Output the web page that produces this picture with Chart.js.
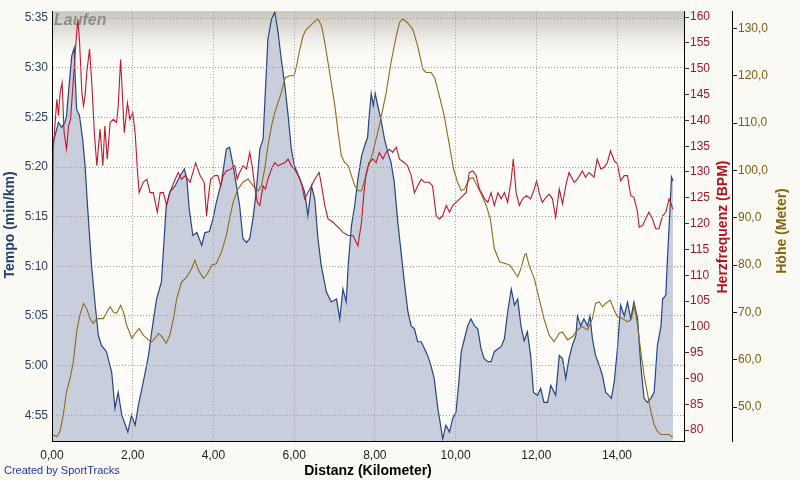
<!DOCTYPE html>
<html>
<head>
<meta charset="utf-8">
<script src="https://cdn.jsdelivr.net/npm/chart.js@4.4.1/dist/chart.umd.min.js"></script>
<style>
  html, body { margin: 0; padding: 0; background: #FBF9F4; }
  canvas { display: block; }
</style>
</head>
<body>
<canvas id="runChart" width="800" height="480"></canvas>
<script>
// Tempo in seconds per km
const tempoKm = [0.00,0.16,0.24,0.32,0.36,0.43,0.49,0.55,0.57,0.61,0.68,0.76,0.82,0.88,0.98,1.07,1.15,1.23,1.35,1.48,1.56,1.64,1.73,1.88,1.97,2.06,2.14,2.26,2.39,2.47,2.59,2.71,2.78,2.83,2.92,3.05,3.17,3.28,3.34,3.40,3.49,3.59,3.71,3.79,3.90,3.99,4.07,4.20,4.32,4.40,4.49,4.57,4.65,4.73,4.82,4.90,4.98,5.06,5.15,5.23,5.29,5.35,5.44,5.52,5.60,5.68,5.77,5.85,5.93,6.01,6.14,6.26,6.34,6.43,6.51,6.59,6.67,6.80,6.92,7.05,7.13,7.21,7.29,7.34,7.42,7.50,7.58,7.67,7.75,7.82,7.86,7.91,7.96,8.01,8.07,8.15,8.24,8.32,8.40,8.48,8.57,8.65,8.73,8.82,8.90,8.98,9.06,9.15,9.23,9.31,9.39,9.47,9.56,9.64,9.68,9.76,9.85,9.93,10.01,10.08,10.14,10.22,10.30,10.38,10.47,10.55,10.63,10.71,10.80,10.88,10.96,11.05,11.13,11.21,11.29,11.38,11.46,11.54,11.62,11.70,11.78,11.86,11.93,12.03,12.11,12.19,12.28,12.36,12.48,12.57,12.65,12.73,12.81,12.89,12.98,13.02,13.10,13.18,13.27,13.33,13.39,13.47,13.56,13.64,13.72,13.80,13.86,13.93,14.01,14.09,14.18,14.26,14.34,14.42,14.51,14.59,14.67,14.75,14.84,14.92,15.00,15.09,15.13,15.21,15.25,15.31,15.35,15.39];
const tempoSec = [322.0,324.5,324.0,324.5,325.2,328.5,331.2,332.0,329.5,325.8,325.2,322.8,320.1,316.1,310.1,306.1,303.0,302.0,301.4,299.3,295.7,297.3,295.0,293.3,295.0,294.0,296.0,298.3,301.0,303.4,306.7,308.4,312.8,316.1,317.5,318.1,319.1,319.8,318.8,315.8,313.1,313.4,312.1,313.4,313.5,314.8,316.4,318.5,321.8,322.0,320.1,318.1,316.1,312.8,312.4,312.8,314.8,317.5,321.8,322.8,327.9,332.9,334.9,335.6,333.6,330.9,328.2,325.2,321.8,320.1,318.8,317.5,315.1,318.1,316.8,312.8,310.1,307.4,306.4,306.7,304.7,307.7,306.4,310.1,314.1,316.1,318.8,321.1,322.2,323.0,325.2,327.4,326.2,327.4,326.2,324.8,322.8,321.5,320.5,318.5,314.4,311.4,308.4,305.4,304.0,303.7,302.4,302.4,301.7,301.0,300.0,298.7,295.7,293.7,292.6,294.0,293.3,294.7,295.3,298.3,301.4,302.7,304.0,304.7,304.0,303.7,301.7,300.7,300.4,300.4,301.4,301.7,301.9,302.7,305.4,307.7,306.1,306.7,304.0,302.5,303.4,301.0,297.3,297.0,297.7,296.3,296.3,298.0,297.0,301.0,300.7,298.7,300.7,302.0,303.0,305.0,304.0,304.7,304.0,305.0,302.7,301.0,300.0,299.0,297.3,297.0,296.7,298.3,301.7,306.1,305.0,306.4,304.7,306.4,304.7,300.0,296.7,296.3,296.7,297.3,302.0,304.0,306.7,307.1,310.8,315.5,319.0,318.6];

// Herzfrequenz (BPM)
const hrKm = [0.00,0.03,0.12,0.16,0.20,0.25,0.30,0.36,0.41,0.46,0.53,0.60,0.64,0.68,0.74,0.78,0.82,0.86,0.93,0.98,1.05,1.11,1.19,1.26,1.31,1.37,1.44,1.52,1.60,1.64,1.70,1.75,1.79,1.87,1.93,2.00,2.06,2.12,2.16,2.26,2.35,2.43,2.51,2.61,2.68,2.76,2.84,2.92,3.05,3.13,3.21,3.30,3.42,3.56,3.67,3.77,3.83,3.87,3.93,4.03,4.11,4.18,4.24,4.32,4.44,4.53,4.59,4.65,4.73,4.82,4.90,4.96,5.02,5.09,5.15,5.23,5.29,5.35,5.44,5.52,5.60,5.68,5.77,5.85,5.93,6.01,6.10,6.18,6.26,6.34,6.43,6.51,6.62,6.68,6.76,6.84,6.96,7.05,7.13,7.21,7.34,7.46,7.58,7.67,7.73,7.78,7.85,7.95,8.03,8.11,8.20,8.28,8.36,8.44,8.53,8.61,8.73,8.81,8.90,8.98,9.06,9.15,9.23,9.35,9.43,9.52,9.60,9.68,9.77,9.85,9.93,10.01,10.14,10.26,10.34,10.43,10.51,10.59,10.72,10.80,10.88,10.96,11.05,11.13,11.21,11.29,11.38,11.43,11.50,11.58,11.66,11.76,11.86,11.95,12.01,12.07,12.15,12.24,12.32,12.40,12.48,12.57,12.65,12.73,12.81,12.94,13.02,13.14,13.22,13.31,13.43,13.51,13.60,13.68,13.76,13.84,13.93,14.01,14.09,14.18,14.26,14.34,14.42,14.51,14.55,14.63,14.71,14.79,14.88,14.96,15.04,15.13,15.21,15.29,15.33,15.38];
const hrBpm = [103.0,134.4,144.1,140.9,145.4,147.3,137.6,134.4,138.9,140.2,148.0,155.7,159.6,155.7,145.4,142.8,144.7,149.2,153.8,148.0,137.6,131.2,138.3,131.2,138.9,132.5,139.6,140.2,139.6,142.8,151.8,144.1,137.6,143.4,140.2,141.5,137.6,129.9,126.0,128.0,128.6,126.0,126.0,122.2,126.0,126.0,123.5,126.0,128.6,129.9,128.6,129.3,128.0,131.8,129.3,128.0,121.5,124.8,128.6,129.3,129.3,127.3,129.3,130.2,130.6,131.2,128.6,129.9,131.2,130.6,133.8,131.2,127.3,124.1,123.5,127.3,126.7,128.6,130.6,131.8,131.2,131.5,131.8,132.5,131.2,130.6,129.3,128.0,124.8,126.0,127.3,128.6,129.9,127.3,123.5,120.9,120.3,119.6,119.0,118.3,117.7,117.7,115.7,120.3,126.0,129.5,131.8,132.5,131.8,133.8,132.5,133.8,134.4,133.8,134.8,132.5,131.8,131.2,129.3,126.0,127.3,128.6,128.0,128.0,127.3,121.5,120.9,121.5,123.5,122.2,123.5,124.1,125.1,126.0,129.9,130.2,129.3,126.7,124.8,124.1,126.0,123.5,126.0,124.8,126.0,124.1,128.6,132.5,126.0,123.5,124.8,125.4,124.8,126.7,128.3,126.0,124.1,125.1,125.7,124.8,121.2,126.7,123.8,127.3,129.9,128.0,128.6,130.2,129.0,129.9,129.0,132.5,130.6,130.9,131.8,134.1,132.2,131.5,128.3,129.3,129.3,125.4,125.1,122.2,119.3,119.6,120.9,122.2,120.9,119.0,119.0,121.5,122.2,124.8,124.1,122.8];

// Höhe (Meter)
const altKm = [0.00,0.12,0.20,0.28,0.36,0.45,0.53,0.61,0.69,0.78,0.86,0.94,1.02,1.11,1.27,1.36,1.44,1.52,1.60,1.70,1.77,1.85,1.98,2.06,2.16,2.26,2.39,2.47,2.55,2.64,2.72,2.83,2.92,3.01,3.09,3.21,3.34,3.46,3.54,3.63,3.75,3.83,3.92,3.95,4.07,4.20,4.32,4.40,4.49,4.61,4.73,4.86,4.98,5.11,5.19,5.27,5.35,5.44,5.52,5.60,5.68,5.78,5.89,6.00,6.06,6.14,6.22,6.30,6.43,6.51,6.59,6.68,6.76,6.84,6.92,7.01,7.09,7.17,7.25,7.34,7.42,7.50,7.58,7.67,7.75,7.95,8.11,8.28,8.40,8.53,8.61,8.69,8.81,8.94,9.06,9.19,9.27,9.39,9.48,9.60,9.72,9.85,9.95,10.05,10.14,10.22,10.34,10.43,10.51,10.63,10.76,10.86,10.96,11.09,11.25,11.35,11.46,11.54,11.62,11.71,11.75,11.82,11.95,12.07,12.19,12.32,12.44,12.57,12.65,12.77,12.90,13.02,13.14,13.27,13.39,13.47,13.56,13.64,13.72,13.83,13.93,14.01,14.14,14.26,14.36,14.43,14.51,14.59,14.67,14.76,14.84,14.92,15.00,15.09,15.21,15.29,15.38];
const altM = [44.2,43.8,44.9,48.4,53.3,56.1,59.6,65.9,69.4,71.9,70.8,68.7,67.7,68.7,68.7,70.1,71.2,70.1,69.8,71.5,70.1,67.3,64.5,65.6,66.6,65.2,64.2,63.8,64.5,65.6,64.9,63.5,65.2,68.7,72.9,76.4,77.5,79.3,81.0,78.9,77.2,77.9,79.3,80.0,80.3,82.8,86.3,89.8,93.3,96.1,97.5,98.2,96.8,95.7,96.8,100.3,105.2,109.4,112.2,114.3,116.4,119.6,120.0,120.0,122.1,125.6,128.4,129.8,130.8,131.5,132.0,130.5,127.0,122.8,118.5,113.6,108.0,103.1,101.7,101.0,98.9,96.8,95.7,95.7,98.0,103.8,109.4,116.4,122.8,128.4,131.2,132.0,131.2,129.8,126.3,121.4,120.7,120.7,119.6,115.7,111.5,105.2,100.3,97.5,95.7,96.1,98.2,98.5,97.2,95.1,92.6,89.8,83.5,80.7,80.3,80.0,78.5,77.5,79.3,82.1,82.4,80.0,77.2,72.9,68.7,65.2,63.8,65.6,65.9,64.2,64.9,66.3,67.0,66.3,68.7,71.9,72.2,71.2,71.9,72.6,70.5,69.1,68.7,68.0,68.7,71.5,67.3,61.7,56.8,52.6,49.1,46.3,44.9,44.2,44.2,44.2,43.6];

const toPoints = (xs, ys) => xs.map((x, i) => ({ x: x, y: ys[i] }));

function fmtPace(v) {
  const m = Math.floor(v / 60);
  const s = Math.round(v - m * 60);
  return m + ':' + String(s).padStart(2, '0');
}
const comma = (v, d) => v.toFixed(d).replace('.', ',');

Chart.defaults.font.family = "'Liberation Sans', Arial, sans-serif";
Chart.defaults.font.size = 12;

// plot background with the grey fade at the top
const backdrop = {
  id: 'backdrop',
  beforeDraw(chart) {
    const { ctx, chartArea: a } = chart;
    ctx.save();
    ctx.fillStyle = '#FBF9F4';
    ctx.fillRect(0, 0, chart.width, chart.height);
    ctx.fillStyle = '#FDFCF8';
    ctx.fillRect(a.left, a.top, a.right - a.left, a.bottom - a.top);
    const g = ctx.createLinearGradient(0, a.top, 0, a.top + 55);
    g.addColorStop(0, '#C9C5BF');
    g.addColorStop(0.4, '#E6E3DE');
    g.addColorStop(1, 'rgba(253,252,248,0)');
    ctx.fillStyle = g;
    ctx.fillRect(a.left, a.top, a.right - a.left, 55);
    ctx.restore();
  },
  beforeDatasetsDraw(chart) {
    const { ctx, chartArea: a } = chart;
    ctx.save();
    ctx.font = "italic bold 16px 'Liberation Sans', Arial, sans-serif";
    ctx.fillStyle = '#8E8C89';
    ctx.textBaseline = 'middle';
    ctx.fillText('Laufen', a.left + 2, a.top + 9);
    ctx.restore();
  }
};

// axis titles (all rotated the same way as in SportTracks)
const titles = {
  id: 'titles',
  afterDraw(chart) {
    const { ctx } = chart;
    const vert = (text, x, y, color) => {
      ctx.save();
      ctx.translate(x, y);
      ctx.rotate(-Math.PI / 2);
      ctx.fillStyle = color;
      ctx.fillText(text, 0, 0);
      ctx.restore();
    };
    ctx.save();
    ctx.font = "bold 14px 'Liberation Sans', Arial, sans-serif";
    ctx.textAlign = 'center';
    ctx.textBaseline = 'middle';
    vert('Tempo (min/km)', 10, 225, '#203C74');
    vert('Herzfrequenz (BPM)', 723, 227, '#B3121F');
    vert('Höhe (Meter)', 782, 231, '#86650F');
    ctx.fillStyle = '#000';
    ctx.fillText('Distanz (Kilometer)', 368, 471);
    ctx.font = "11px 'Liberation Sans', Arial, sans-serif";
    ctx.textAlign = 'left';
    ctx.fillStyle = '#1E36B8';
    ctx.fillText('Created by SportTracks', 4, 471);
    ctx.restore();
  }
};

const chart = new Chart(document.getElementById('runChart'), {
  type: 'line',
  data: {
    datasets: [
      {
        label: 'Herzfrequenz',
        data: toPoints(hrKm, hrBpm),
        yAxisID: 'yHR',
        borderColor: '#C0172A',
        borderWidth: 1.1,
        pointRadius: 0,
        fill: false,
        order: 1
      },
      {
        label: 'Höhe',
        data: toPoints(altKm, altM),
        yAxisID: 'yAlt',
        borderColor: '#8E6A1C',
        borderWidth: 1.1,
        pointRadius: 0,
        fill: false,
        order: 2
      },
      {
        label: 'Tempo',
        data: toPoints(tempoKm, tempoSec),
        yAxisID: 'y',
        borderColor: '#24467F',
        backgroundColor: '#C8CEDB',
        borderWidth: 1.2,
        pointRadius: 0,
        fill: 'start',
        order: 3
      }
    ]
  },
  options: {
    responsive: false,
    animation: false,
    layout: { padding: { top: 10, left: 0, right: 0, bottom: 0 } },
    elements: { line: { tension: 0 } },
    plugins: {
      legend: { display: false },
      tooltip: { enabled: false }
    },
    scales: {
      x: {
        type: 'linear',
        position: 'bottom',
        min: 0,
        max: 15.66,
        afterFit: s => { s.height = 39; },
        grid: { color: '#9C9C9C', drawTicks: false, z: 1 },
        border: { color: '#000', width: 1, dash: [1, 2], z: 2 },
        ticks: {
          stepSize: 2,
          includeBounds: false,
          padding: 7,
          maxRotation: 0,
          color: '#222',
          callback: v => comma(v, 2)
        }
      },
      y: {
        position: 'left',
        min: 292.4,
        max: 335.7,
        afterFit: s => { s.width = 52; },
        grid: { color: '#9C9C9C', drawTicks: false, z: 1 },
        border: { color: '#000', width: 1, dash: [1, 2], z: 2 },
        ticks: {
          stepSize: 5,
          includeBounds: false,
          padding: 4,
          color: '#2B3E63',
          callback: v => fmtPace(v)
        }
      },
      yHR: {
        position: 'right',
        min: 77.87,
        max: 161.16,
        afterFit: s => { s.width = 48; },
        grid: { drawOnChartArea: false, drawTicks: true, tickLength: 5, tickColor: '#7A1A22' },
        border: { color: '#000', width: 1, z: 2 },
        ticks: {
          stepSize: 5,
          includeBounds: false,
          padding: 1,
          color: '#A3162B'
        }
      },
      yAlt: {
        position: 'right',
        min: 42.84,
        max: 133.64,
        afterFit: s => { s.width = 68; },
        grid: { drawOnChartArea: false, drawTicks: true, tickLength: 5, tickColor: '#222' },
        border: { color: '#000', width: 1 },
        ticks: {
          stepSize: 10,
          includeBounds: false,
          padding: 1,
          color: '#7D5E14',
          callback: v => comma(v, 1)
        }
      }
    }
  },
  plugins: [backdrop, titles]
});
</script>
</body>
</html>
